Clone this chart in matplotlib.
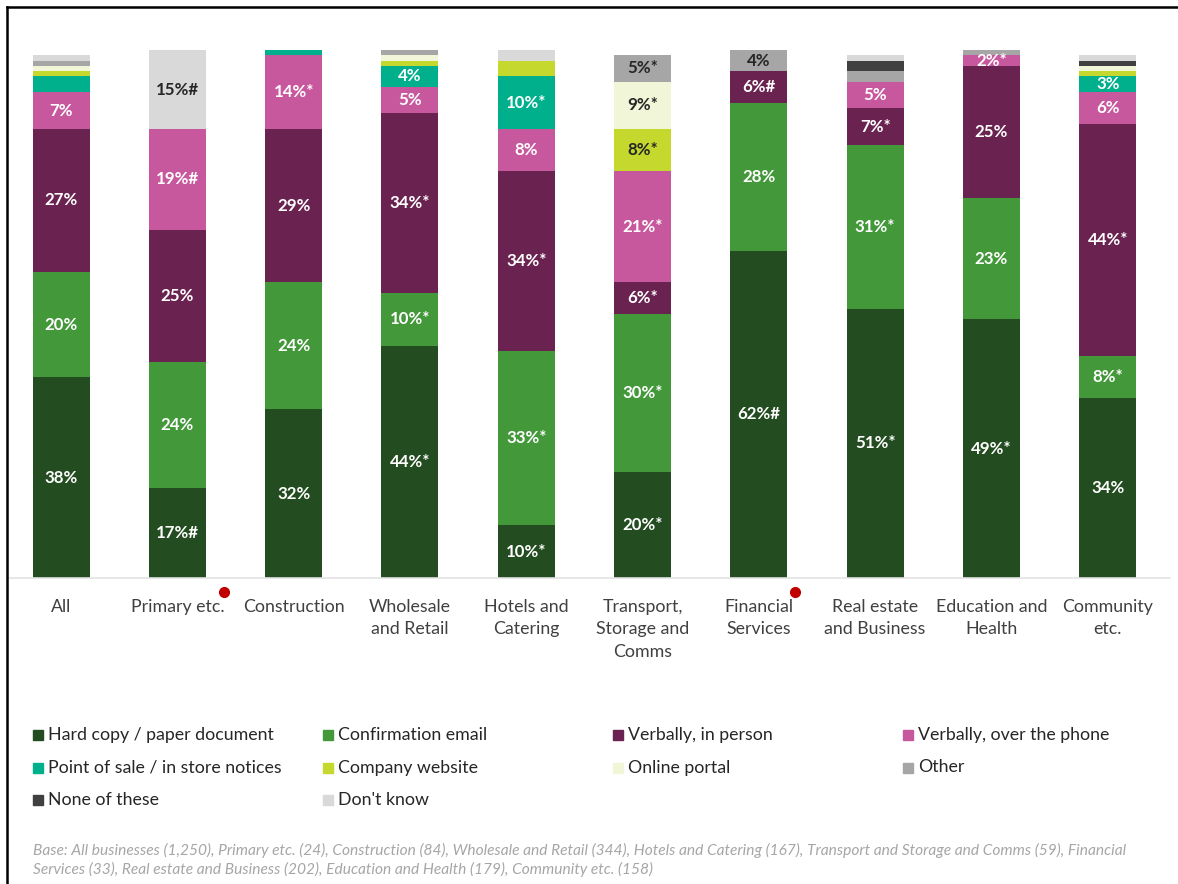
import matplotlib.pyplot as plt
from matplotlib.patches import Rectangle
from matplotlib.lines import Line2D

plt.rcParams['font.family'] = ['Lato', 'DejaVu Sans']

categories = ["All", "Primary etc.", "Construction", "Wholesale\nand Retail",
              "Hotels and\nCatering", "Transport,\nStorage and\nComms",
              "Financial\nServices", "Real estate\nand Business",
              "Education and\nHealth", "Community\netc."]

series_names = ["Hard copy / paper document", "Confirmation email",
                "Verbally, in person", "Verbally, over the phone",
                "Point of sale / in store notices", "Company website",
                "Online portal", "Other", "None of these", "Don't know"]

hard_copy = [38, 17, 32, 44, 10, 20, 62, 51, 49, 34]
conf_email = [20, 24, 24, 10, 33, 30, 28, 31, 23, 8]
verbal_person = [27, 25, 29, 34, 34, 6, 6, 7, 25, 44]
verbal_phone = [7, 19, 14, 5, 8, 21, 0, 5, 2, 6]
point_of_sale = [3, 0, 1, 4, 10, 0, 0, 0, 0, 3]
website = [1, 0, 0, 1, 3, 8, 0, 0, 0, 1]
portal = [1, 0, 0, 1, 0, 9, 0, 0, 0, 1]
other = [1, 0, 0, 1, 0, 5, 4, 2, 1, 0]
none_of_these = [0, 0, 0, 0, 0, 0, 0, 2, 0, 1]
dont_know = [1, 15, 0, 0, 2, 0, 0, 1, 0, 1]

# significance marks per segment; None = no label drawn
hard_copy_sig = ["", "#", "", "*", "*", "*", "#", "*", "*", ""]
conf_email_sig = ["", "", "", "*", "*", "*", "", "*", "", "*"]
verbal_person_sig = ["", "", "", "*", "*", "*", "#", "*", "", "*"]
verbal_phone_sig = ["", "#", "*", "", "", "*", None, "", "*", ""]
point_of_sale_sig = [None, None, None, "", "*", None, None, None, None, ""]
website_sig = [None, None, None, None, None, "*", None, None, None, None]
portal_sig = [None, None, None, None, None, "*", None, None, None, None]
other_sig = [None, None, None, None, None, "*", "", None, None, None]
none_sig = [None] * 10
dont_know_sig = [None, "#", None, None, None, None, None, None, None, None]

series = [hard_copy, conf_email, verbal_person, verbal_phone, point_of_sale,
          website, portal, other, none_of_these, dont_know]
sigs = [hard_copy_sig, conf_email_sig, verbal_person_sig, verbal_phone_sig,
        point_of_sale_sig, website_sig, portal_sig, other_sig, none_sig,
        dont_know_sig]
colors = ["#234D20", "#43983A", "#6A2350", "#C8589E", "#00B08C",
          "#C4D82E", "#F2F6D8", "#A6A6A6", "#404040", "#D9D9D9"]
text_colors = ["white", "white", "white", "white", "white",
               "#262626", "#262626", "#262626", "white", "#262626"]

# low sample size markers next to category labels
flagged = [1, 6]
flag_offsets = [0.40, 0.31]

W, H = 1178, 884
fig = plt.figure(figsize=(W / 100, H / 100), dpi=100)
ax = fig.add_axes([8 / W, 1 - 578 / H, (1170 - 8) / W, 528 / H])

x = list(range(len(categories)))
bottom = [0] * len(categories)
for vals, sig, col, tcol in zip(series, sigs, colors, text_colors):
    ax.bar(x, vals, bottom=bottom, width=0.49, color=col, edgecolor='none')
    for i, v in enumerate(vals):
        if sig[i] is not None and v > 0:
            ax.text(i, bottom[i] + v / 2, f"{v}%{sig[i]}", ha='center',
                    va='center', color=tcol, fontsize=12.2, fontweight='bold')
    bottom = [b + v for b, v in zip(bottom, vals)]

ax.set_xlim(-0.456, 9.535)
ax.set_ylim(0, 100)
ax.set_yticks([])
ax.set_xticks(x)
ax.set_xticklabels(categories, fontsize=12.8, color='#404040', linespacing=1.5)
ax.tick_params(axis='x', length=0, pad=15)
for s in ['top', 'right', 'left']:
    ax.spines[s].set_visible(False)
ax.spines['bottom'].set_color('#E3E3E3')
ax.spines['bottom'].set_linewidth(1.2)

for i, off in zip(flagged, flag_offsets):
    ax.plot(i + off, -2.65, 'o', color='#C00000', markersize=7, clip_on=False)

# legend laid out on a fixed grid
for k, (name, col) in enumerate(zip(series_names, colors)):
    row, c = divmod(k, 4)
    px = 33 + 290 * c
    py = 735 + 32.5 * row
    fig.add_artist(Rectangle((px / W, 1 - (py + 5) / H), 10 / W, 10 / H,
                             transform=fig.transFigure, color=col))
    fig.text((px + 15) / W, 1 - py / H, name, fontsize=12.8, color='#262626',
             va='center', ha='left')

note = ("Base: All businesses (1,250), Primary etc. (24), Construction (84), "
        "Wholesale and Retail (344), Hotels and Catering (167), Transport and "
        "Storage and Comms (59), Financial\nServices (33), Real estate and "
        "Business (202), Education and Health (179), Community etc. (158)")
fig.text(33 / W, 1 - 843 / H, note, fontsize=11.2, style='italic',
         color='#A6A6A6', va='top', ha='left', linespacing=1.35)

# frame lines at top and left
fig.add_artist(Line2D([7 / W, 1], [1 - 6.5 / H] * 2, color='black', lw=1.8,
                      transform=fig.transFigure))
fig.add_artist(Line2D([7 / W] * 2, [0, 1 - 6.5 / H], color='black', lw=1.8,
                      transform=fig.transFigure))

fig.savefig('out.png', dpi=100)
